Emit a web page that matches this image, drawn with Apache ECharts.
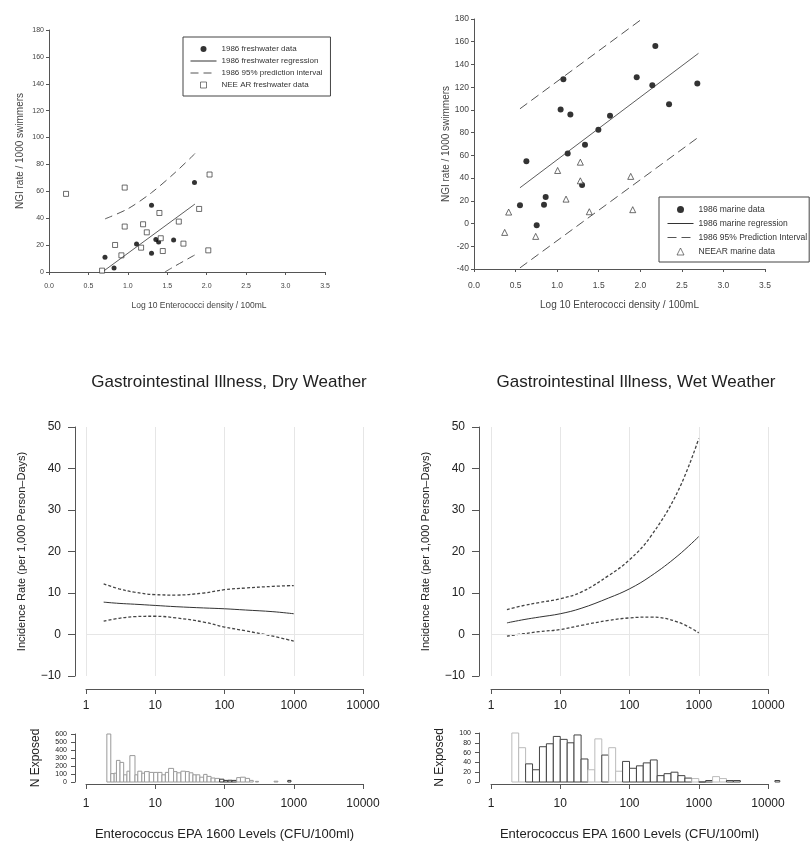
<!DOCTYPE html>
<html>
<head>
<meta charset="utf-8">
<script src="https://cdn.jsdelivr.net/npm/echarts@6/dist/echarts.min.js"></script>
<style>
  html, body { margin: 0; padding: 0; background: #fff; }
  #main { width: 811px; height: 842px; }
</style>
</head>
<body>
<div id="main"></div>
<script>
// ---- top left: 1986 freshwater vs NEEAR freshwater ----
var freshX = [0.71, 0.825, 1.11, 1.30, 1.30, 1.355, 1.39, 1.58, 1.845];
var freshY = [10.9, 3.0, 20.9, 49.7, 13.9, 24.1, 22.3, 23.8, 66.5];
var neearFreshX = [0.216, 0.673, 0.838, 0.918, 0.96, 0.96, 1.168, 1.193, 1.24, 1.40, 1.417, 1.443, 1.646, 1.705, 1.904, 2.02, 2.036];
var neearFreshY = [58.1, 1.0, 20.1, 12.4, 33.8, 62.8, 18.1, 35.5, 29.5, 43.9, 25.1, 15.6, 37.5, 21.1, 46.9, 16.1, 72.5];
var freshRegX = [0.70, 1.85];
var freshRegY = [1.0, 50.5];
var freshUpX = [0.71, 1.0, 1.3, 1.6, 1.85];
var freshUpY = [39.5, 47, 59, 74, 88];
var freshLoX = [1.47, 1.6, 1.85];
var freshLoY = [0, 4.5, 12.7];

// ---- top right: 1986 marine vs NEEAR marine ----
var marineX = [0.553, 0.63, 0.754, 0.842, 0.862, 1.042, 1.075, 1.159, 1.127, 1.30, 1.335, 1.496, 1.636, 1.957, 2.145, 2.181, 2.346, 2.686];
var marineY = [16.0, 54.9, -1.6, 16.6, 23.3, 100.3, 127.0, 95.9, 61.7, 34.0, 69.3, 82.5, 94.8, 128.7, 121.7, 156.3, 105.0, 123.2];
var neearMarineX = [0.369, 0.417, 0.742, 1.006, 1.107, 1.279, 1.279, 1.387, 1.885, 1.909];
var neearMarineY = [-7.8, 10.1, -11.3, 46.7, 21.5, 54.0, 37.6, 10.4, 41.5, 12.2];
var marineRegX = [0.553, 2.70];
var marineRegY = [31.5, 149.8];
var marineUpX = [0.553, 2.02];
var marineUpY = [101, 180];
var marineLoX = [0.553, 2.70];
var marineLoY = [-39, 76];

// ---- bottom: incidence rate curves ----
var dryX = [1.8, 3, 5, 10, 20, 50, 100, 200, 500, 1000];
var dryFit = [7.8, 7.5, 7.3, 7.0, 6.7, 6.4, 6.2, 5.9, 5.5, 5.0];
var dryUp = [12.2, 11.0, 10.2, 9.6, 9.5, 10.0, 10.8, 11.2, 11.6, 11.8];
var dryLo = [3.2, 3.9, 4.3, 4.4, 4.0, 3.0, 1.8, 0.9, -0.4, -1.6];
var wetX = [1.7, 3, 5, 10, 20, 50, 100, 200, 500, 1000];
var wetFit = [2.8, 3.6, 4.2, 5.0, 6.3, 8.8, 11.0, 14.0, 19.0, 23.6];
var wetUp = [6.0, 7.0, 7.7, 8.6, 10.2, 14.2, 18.0, 23.5, 34.5, 47.2];
var wetLo = [-0.4, 0.2, 0.7, 1.2, 2.2, 3.4, 4.0, 4.2, 3.0, 0.4];

// ---- bottom: N exposed histograms (bin low, bin high, count, data group) ----
var dryBinLo = [2.0, 2.28, 2.55, 2.75, 3.1, 3.5, 3.9, 4.3, 5.1, 5.6, 6.4, 7.0, 8.2, 9.5, 10.9, 12.5, 14.0, 15.6, 18.4, 20.6, 23.5, 27.3, 31, 35, 39, 44, 50, 56, 64, 73, 85, 98, 112, 128, 150, 170, 200, 230, 280, 520, 820];
var dryBinHi = [2.28, 2.55, 2.75, 3.1, 3.5, 3.9, 4.3, 5.1, 5.6, 6.4, 7.0, 8.2, 9.5, 10.9, 12.5, 14.0, 15.6, 18.4, 20.6, 23.5, 27.3, 31, 35, 39, 44, 50, 56, 64, 73, 85, 98, 112, 128, 150, 170, 200, 230, 260, 310, 590, 910];
var dryN = [600, 105, 110, 270, 245, 90, 135, 330, 90, 135, 110, 130, 120, 120, 120, 90, 120, 170, 130, 115, 135, 130, 115, 90, 90, 60, 95, 70, 50, 45, 35, 20, 22, 20, 55, 60, 45, 20, 8, 10, 20];
var dryGroup = [0, 0, 0, 0, 0, 0, 0, 0, 0, 0, 0, 0, 0, 0, 0, 0, 0, 0, 0, 0, 0, 0, 0, 0, 0, 0, 0, 0, 0, 0, 1, 1, 1, 1, 0, 0, 0, 0, 0, 0, 1];
var wetBinLo = [2.0, 2.51, 3.16, 3.98, 5.01, 6.31, 7.94, 10, 12.6, 15.8, 20, 25.1, 31.6, 39.8, 50.1, 63.1, 79.4, 100, 126, 158, 200, 251, 316, 398, 501, 631, 794, 1000, 1259, 1585, 1995, 2512, 3162, 12600];
var wetBinHi = [2.51, 3.16, 3.98, 5.01, 6.31, 7.94, 10, 12.6, 15.8, 20, 25.1, 31.6, 39.8, 50.1, 63.1, 79.4, 100, 126, 158, 200, 251, 316, 398, 501, 631, 794, 1000, 1259, 1585, 1995, 2512, 3162, 3981, 14800];
var wetN = [100, 70, 37, 25, 72, 78, 93, 87, 80, 96, 47, 25, 88, 55, 70, 22, 42, 28, 33, 39, 45, 13, 17, 20, 13, 8, 7, 0, 3, 11, 7, 3, 3, 3];
var wetGroup = [1, 1, 0, 0, 0, 0, 0, 0, 0, 0, 0, 1, 1, 0, 1, 1, 0, 0, 0, 0, 0, 0, 0, 0, 0, 0, 1, 0, 0, 1, 1, 0, 0, 0];

function pairs(xs, ys) {
  return xs.map(function (x, i) { return [x, ys[i]]; });
}
function bins(lo, hi, n, g) {
  return lo.map(function (x, i) { return [x, hi[i], n[i], g[i]]; });
}

var narrow = "'Liberation Sans Narrow', 'Liberation Sans', Arial, sans-serif";
var sans = "'Liberation Sans', Arial, sans-serif";
var squareIcon = 'path://M0 0H10V10H0Z';
var triIcon = 'path://M5 0L10 10H0Z';
var noMarker = { color: 'rgba(0,0,0,0)', borderWidth: 0 };
var openMarker = { color: '#fff', borderColor: '#333', borderWidth: 0.8 };

function topX(grid, fs, gap, pad) {
  return {
    gridIndex: grid, type: 'value', min: 0, max: 3.5, interval: 0.5,
    axisLine: { show: true, onZero: false, lineStyle: { color: '#555', width: 1 } },
    axisTick: { show: true, length: 3, lineStyle: { color: '#555' } },
    axisLabel: { fontSize: fs, color: '#444', fontFamily: narrow, margin: fs + 4,
      formatter: function (v) { return v.toFixed(1); } },
    splitLine: { show: false },
    name: 'Log 10 Enterococci density / 100mL', nameLocation: 'middle', nameGap: gap,
    nameTextStyle: { fontSize: fs + 1.5, color: '#444', fontFamily: narrow, padding: pad }
  };
}
function topY(grid, min, fs, gap) {
  return {
    gridIndex: grid, type: 'value', min: min, max: 180, interval: 20,
    axisLine: { show: true, onZero: false, lineStyle: { color: '#555', width: 1 } },
    axisTick: { show: true, length: 3, lineStyle: { color: '#555' } },
    axisLabel: { fontSize: fs, color: '#444', fontFamily: narrow, margin: 5 },
    splitLine: { show: false },
    name: 'NGI rate / 1000 swimmers', nameLocation: 'middle', nameGap: gap,
    nameTextStyle: { fontSize: 10, color: '#444', fontFamily: sans }
  };
}
function logX(grid, offset, margin, withName) {
  var ax = {
    gridIndex: grid, type: 'log', logBase: 10, min: 1, max: 10000, offset: offset,
    axisLine: { show: true, onZero: false, lineStyle: { color: '#555', width: 1 } },
    axisTick: { show: true, length: 5, lineStyle: { color: '#555' } },
    axisLabel: { fontSize: 12, color: '#222', fontFamily: sans, margin: margin,
      formatter: function (v) { return String(Math.round(v)); } },
    splitLine: { show: !withName, lineStyle: { color: '#e6e6e6', width: 1 } }
  };
  if (withName) {
    ax.name = 'Enterococcus EPA 1600 Levels (CFU/100ml)';
    ax.nameLocation = 'middle';
    ax.nameGap = 44;
    ax.nameTextStyle = { fontSize: 13, color: '#222', fontFamily: sans };
  }
  return ax;
}
function rateY(grid, offset) {
  return {
    gridIndex: grid, type: 'value', min: -10, max: 50, interval: 10, offset: offset,
    axisLine: { show: true, lineStyle: { color: '#555', width: 1 } },
    axisTick: { show: true, length: 7, lineStyle: { color: '#555' } },
    axisLabel: { fontSize: 12, color: '#222', fontFamily: sans, margin: 14,
      formatter: function (v) { return v < 0 ? '\u2212' + (-v) : String(v); } },
    splitLine: { show: false },
    name: 'Incidence Rate (per 1,000 Person\u2013Days)', nameLocation: 'middle', nameGap: 48,
    nameTextStyle: { fontSize: 11, color: '#222', fontFamily: sans }
  };
}
function histY(grid, max, interval, offset) {
  return {
    gridIndex: grid, type: 'value', min: 0, max: max, interval: interval, offset: offset,
    axisLine: { show: true, lineStyle: { color: '#555', width: 1 } },
    axisTick: { show: true, length: 4, lineStyle: { color: '#555' } },
    axisLabel: { fontSize: 7, color: '#222', fontFamily: sans, margin: 8 },
    splitLine: { show: false },
    name: 'N Exposed', nameLocation: 'middle', nameGap: 33,
    nameTextStyle: { fontSize: 12, color: '#222', fontFamily: sans }
  };
}
function curve(name, xi, data, dashed) {
  return {
    name: name, type: 'line', xAxisIndex: xi, yAxisIndex: xi, data: data,
    smooth: 0.4, symbol: 'none', silent: true,
    lineStyle: dashed ? { color: '#444', width: 1.3, type: [3, 2] } : { color: '#333', width: 1 }
  };
}
function zeroLine() {
  return { silent: true, symbol: 'none', label: { show: false },
    lineStyle: { color: '#e6e6e6', type: 'solid', width: 1 }, data: [{ yAxis: 0 }] };
}
function histRender(light, dark) {
  return function (params, api) {
    var p0 = api.coord([api.value(0), 0]);
    var p1 = api.coord([api.value(1), api.value(2)]);
    return {
      type: 'rect',
      shape: { x: p0[0], y: p1[1], width: p1[0] - p0[0], height: p0[1] - p1[1] },
      style: { fill: '#fff', stroke: api.value(3) ? light : dark, lineWidth: 1 }
    };
  };
}

var chart = echarts.init(document.getElementById('main'));
chart.setOption({
  animation: false,
  backgroundColor: '#fff',
  title: [
    { text: 'Gastrointestinal Illness, Dry Weather', left: 224, top: 369, textAlign: 'center',
      textStyle: { fontSize: 17, fontWeight: 'normal', color: '#222', fontFamily: sans } },
    { text: 'Gastrointestinal Illness, Wet Weather', left: 631, top: 369, textAlign: 'center',
      textStyle: { fontSize: 17, fontWeight: 'normal', color: '#222', fontFamily: sans } }
  ],
  legend: [
    { data: [
        { name: '1986 freshwater data' },
        { name: '1986 freshwater regression', itemStyle: noMarker },
        { name: '1986 95% prediction interval', itemStyle: noMarker },
        { name: 'NEE AR freshwater data', icon: squareIcon, itemStyle: openMarker }
      ],
      orient: 'vertical', left: 183, top: 37, padding: [8, 8, 7, 7], itemGap: 4,
      itemWidth: 26, itemHeight: 6, borderColor: '#444', borderWidth: 1,
      lineStyle: { width: 1 },
      textStyle: { fontSize: 8, color: '#333', fontFamily: narrow } },
    { data: [
        { name: '1986 marine data' },
        { name: '1986 marine regression', itemStyle: noMarker },
        { name: '1986 95% Prediction Interval', itemStyle: noMarker },
        { name: 'NEEAR marine data', icon: triIcon, itemStyle: openMarker }
      ],
      orient: 'vertical', left: 659, top: 197, padding: [8, 2, 6, 8], itemGap: 5,
      itemWidth: 26, itemHeight: 7, borderColor: '#444', borderWidth: 1,
      lineStyle: { width: 1 },
      textStyle: { fontSize: 8.5, color: '#333', fontFamily: narrow } }
  ],
  grid: [
    { left: 49, top: 30, width: 276, height: 242 },
    { left: 474, top: 19, width: 291, height: 250 },
    { left: 86, top: 427, width: 277, height: 249 },
    { left: 491, top: 427, width: 277, height: 249 },
    { left: 86, top: 734, width: 277, height: 50 },
    { left: 491, top: 733, width: 277, height: 51 }
  ],
  xAxis: [
    topX(0, 7, 29, [0, 0, 0, 24]),
    topX(1, 8.5, 31, [0, 0, 0, 0]),
    logX(2, 13, 11, false),
    logX(3, 13, 11, false),
    logX(4, 2, 14, true),
    logX(5, 2, 14, true)
  ],
  yAxis: [
    topY(0, 0, 7, 24),
    topY(1, -40, 8.5, 21),
    rateY(2, 11),
    rateY(3, 12),
    histY(4, 600, 100, 11),
    histY(5, 100, 20, 12)
  ],
  series: [
    { name: '1986 freshwater data', type: 'scatter', xAxisIndex: 0, yAxisIndex: 0,
      data: pairs(freshX, freshY), symbol: 'circle', symbolSize: 5, itemStyle: { color: '#000' } },
    { name: '1986 freshwater regression', type: 'line', xAxisIndex: 0, yAxisIndex: 0,
      data: pairs(freshRegX, freshRegY), symbol: 'none', lineStyle: { color: '#333', width: 0.8 }, itemStyle: { color: '#333' } },
    { name: '1986 95% prediction interval', type: 'line', xAxisIndex: 0, yAxisIndex: 0, smooth: 0.3,
      data: pairs(freshUpX, freshUpY), symbol: 'none', lineStyle: { color: '#555', width: 1, type: [8, 5] }, itemStyle: { color: '#555' } },
    { name: '1986 95% prediction interval', type: 'line', xAxisIndex: 0, yAxisIndex: 0, smooth: 0.3,
      data: pairs(freshLoX, freshLoY), symbol: 'none', lineStyle: { color: '#555', width: 1, type: [8, 5] }, itemStyle: { color: '#555' } },
    { name: 'NEE AR freshwater data', type: 'scatter', xAxisIndex: 0, yAxisIndex: 0,
      data: pairs(neearFreshX, neearFreshY), symbol: 'rect', symbolSize: 5,
      itemStyle: { color: '#fff', borderColor: '#333', borderWidth: 0.9 } },

    { name: '1986 marine data', type: 'scatter', xAxisIndex: 1, yAxisIndex: 1,
      data: pairs(marineX, marineY), symbol: 'circle', symbolSize: 6, itemStyle: { color: '#000' } },
    { name: '1986 marine regression', type: 'line', xAxisIndex: 1, yAxisIndex: 1,
      data: pairs(marineRegX, marineRegY), symbol: 'none', lineStyle: { color: '#333', width: 0.8 }, itemStyle: { color: '#333' } },
    { name: '1986 95% Prediction Interval', type: 'line', xAxisIndex: 1, yAxisIndex: 1,
      data: pairs(marineUpX, marineUpY), symbol: 'none', lineStyle: { color: '#555', width: 1, type: [9, 5] }, itemStyle: { color: '#555' } },
    { name: '1986 95% Prediction Interval', type: 'line', xAxisIndex: 1, yAxisIndex: 1,
      data: pairs(marineLoX, marineLoY), symbol: 'none', lineStyle: { color: '#555', width: 1, type: [9, 5] }, itemStyle: { color: '#555' } },
    { name: 'NEEAR marine data', type: 'scatter', xAxisIndex: 1, yAxisIndex: 1,
      data: pairs(neearMarineX, neearMarineY), symbol: 'triangle', symbolSize: 6,
      itemStyle: { color: '#fff', borderColor: '#333', borderWidth: 0.9 } },

    Object.assign(curve('dry fit', 2, pairs(dryX, dryFit), false), { markLine: zeroLine() }),
    curve('dry upper', 2, pairs(dryX, dryUp), true),
    curve('dry lower', 2, pairs(dryX, dryLo), true),
    Object.assign(curve('wet fit', 3, pairs(wetX, wetFit), false), { markLine: zeroLine() }),
    curve('wet upper', 3, pairs(wetX, wetUp), true),
    curve('wet lower', 3, pairs(wetX, wetLo), true),

    { type: 'custom', xAxisIndex: 4, yAxisIndex: 4, silent: true, clip: false,
      data: bins(dryBinLo, dryBinHi, dryN, dryGroup), encode: { x: [0, 1], y: 2 },
      renderItem: histRender('#333', '#9a9a9a') },
    { type: 'custom', xAxisIndex: 5, yAxisIndex: 5, silent: true, clip: false,
      data: bins(wetBinLo, wetBinHi, wetN, wetGroup), encode: { x: [0, 1], y: 2 },
      renderItem: histRender('#bbbbbb', '#444') }
  ]
});
</script>
</body>
</html>
